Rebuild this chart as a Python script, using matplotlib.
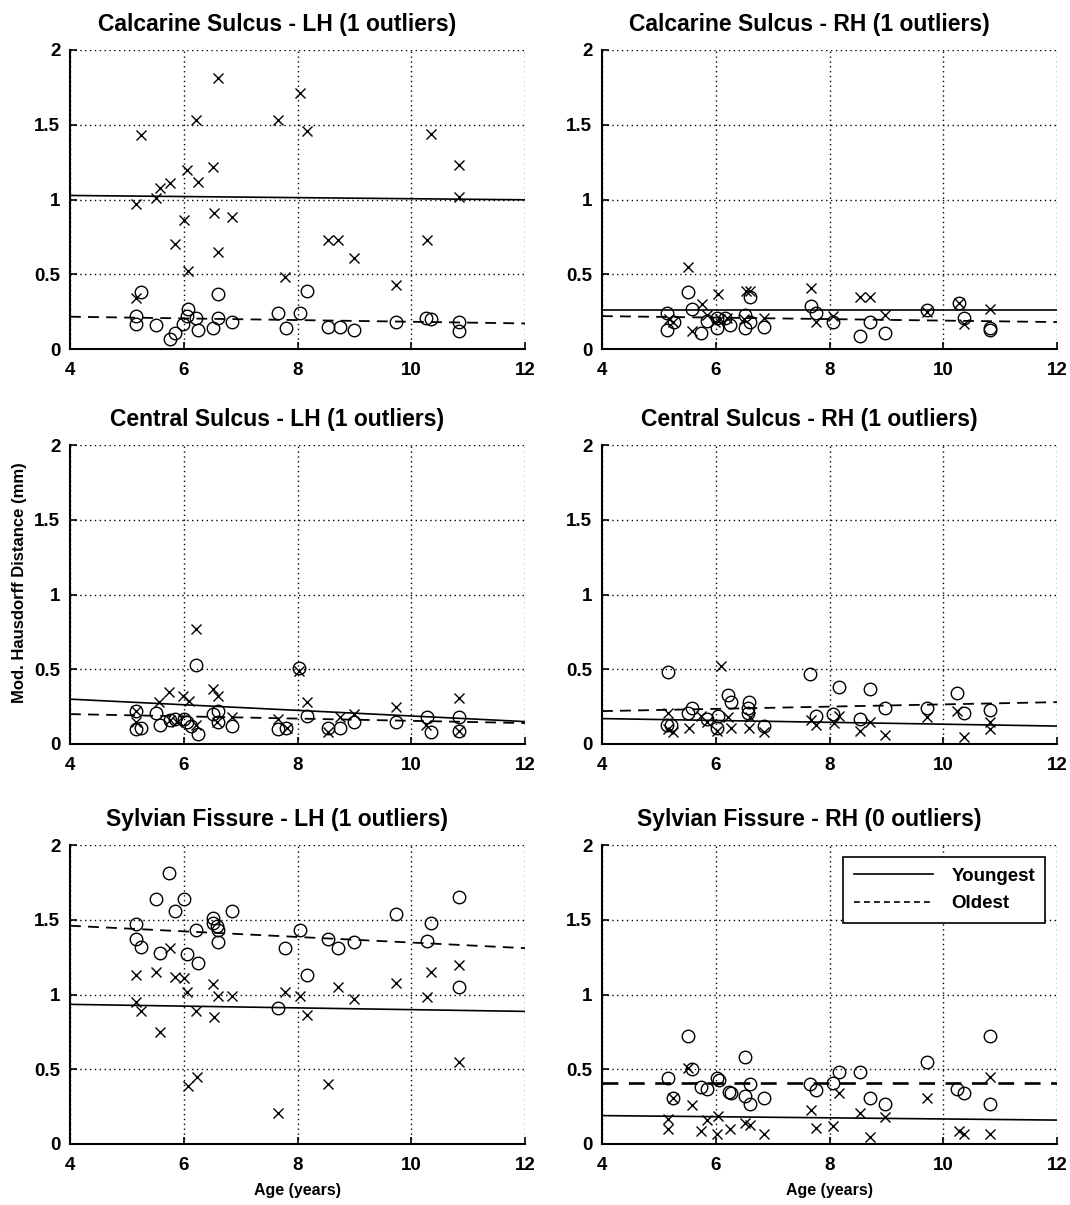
import matplotlib
matplotlib.use('Agg')
import matplotlib.pyplot as plt
from matplotlib.lines import Line2D

plt.rcParams['font.family'] = ['Liberation Sans', 'DejaVu Sans']
plt.rcParams['font.weight'] = 'bold'

# x = crosses (youngest), o = circles (oldest); ages in years, distance in mm
fit_x = [4, 12]

# Calcarine Sulcus - LH
cal_lh_young_age = [6.6, 8.05, 6.21, 7.66, 8.16, 5.25, 10.35, 10.84, 6.05, 6.51, 6.25, 5.59, 5.75, 5.52,
                    5.16, 10.84, 6.53, 6.84, 6.0, 5.84, 6.6, 8.53, 8.72, 8.99, 10.28, 6.07, 7.78, 9.74, 5.16]
cal_lh_young = [1.81, 1.71, 1.53, 1.53, 1.46, 1.43, 1.44, 1.23, 1.20, 1.22, 1.12, 1.08, 1.11, 1.01,
                0.97, 1.02, 0.91, 0.88, 0.86, 0.70, 0.65, 0.73, 0.73, 0.61, 0.73, 0.52, 0.48, 0.43, 0.34]
cal_lh_old_age = [5.25, 6.6, 8.16, 5.16, 5.16, 5.52, 5.75, 5.85, 5.99, 6.08, 6.05, 6.22, 6.25, 6.52,
                  6.6, 6.84, 7.66, 7.79, 8.05, 8.53, 8.74, 8.99, 9.74, 10.26, 10.35, 10.84, 10.84]
cal_lh_old = [0.38, 0.37, 0.39, 0.22, 0.17, 0.16, 0.07, 0.11, 0.17, 0.27, 0.22, 0.21, 0.13, 0.14,
              0.21, 0.18, 0.24, 0.14, 0.24, 0.15, 0.15, 0.13, 0.18, 0.21, 0.20, 0.18, 0.12]
cal_lh_fit_young = [1.027, 0.998]
cal_lh_fit_old = [0.216, 0.171]

# Calcarine Sulcus - RH
cal_rh_young_age = [5.51, 6.04, 6.54, 6.6, 7.67, 8.54, 8.71, 5.75, 5.18, 5.24, 5.59, 5.84, 5.99, 6.07,
                    6.2, 6.5, 6.85, 7.77, 8.06, 8.98, 9.71, 10.27, 10.36, 10.82]
cal_rh_young = [0.546, 0.37, 0.39, 0.39, 0.41, 0.35, 0.35, 0.30, 0.20, 0.18, 0.12, 0.23, 0.18, 0.20,
                0.21, 0.20, 0.21, 0.18, 0.22, 0.23, 0.25, 0.31, 0.17, 0.27]
cal_rh_old_age = [5.51, 5.59, 5.15, 5.26, 5.15, 5.74, 5.84, 6.02, 6.03, 6.16, 6.25, 6.51, 6.51, 6.6,
                  6.6, 6.84, 7.67, 7.77, 8.06, 8.53, 8.71, 8.98, 9.71, 10.27, 10.36, 10.82, 10.82]
cal_rh_old = [0.38, 0.27, 0.24, 0.18, 0.13, 0.11, 0.19, 0.14, 0.21, 0.21, 0.16, 0.23, 0.14, 0.35,
              0.18, 0.15, 0.29, 0.24, 0.18, 0.09, 0.18, 0.11, 0.26, 0.31, 0.21, 0.14, 0.13]
cal_rh_fit_young = [0.26, 0.26]
cal_rh_fit_old = [0.22, 0.18]

# Central Sulcus - LH
cen_lh_young_age = [6.21, 8.03, 5.74, 5.57, 5.99, 6.09, 6.51, 6.6, 8.16, 10.84, 9.74, 5.16, 5.16,
                    5.76, 5.88, 6.21, 6.59, 6.85, 7.66, 7.82, 8.53, 8.74, 9.0, 10.26, 10.84]
cen_lh_young = [0.77, 0.49, 0.35, 0.28, 0.32, 0.29, 0.37, 0.32, 0.28, 0.31, 0.25, 0.22, 0.15,
                0.16, 0.15, 0.13, 0.15, 0.18, 0.17, 0.11, 0.08, 0.18, 0.20, 0.13, 0.09]
cen_lh_old_age = [6.21, 8.03, 5.16, 5.16, 5.24, 5.52, 5.59, 5.75, 5.84, 6.0, 6.06, 6.12, 6.25, 6.51,
                  6.6, 6.6, 6.84, 7.66, 7.79, 8.16, 8.54, 8.74, 8.99, 9.74, 10.28, 10.35, 10.84, 10.84]
cen_lh_old = [0.53, 0.51, 0.22, 0.10, 0.11, 0.21, 0.13, 0.16, 0.17, 0.17, 0.15, 0.12, 0.07, 0.20,
              0.22, 0.15, 0.12, 0.10, 0.11, 0.19, 0.11, 0.11, 0.15, 0.15, 0.18, 0.08, 0.18, 0.09]
cen_lh_fit_young = [0.30, 0.15]
cen_lh_fit_old = [0.20, 0.14]

# Central Sulcus - RH
cen_rh_young_age = [6.09, 5.16, 5.16, 5.24, 5.53, 5.74, 5.85, 6.02, 6.22, 6.26, 6.58, 6.6, 6.85,
                    7.67, 7.77, 8.08, 8.16, 8.54, 8.71, 8.98, 9.71, 10.36, 10.25, 10.82, 10.82]
cen_rh_young = [0.52, 0.21, 0.10, 0.08, 0.11, 0.19, 0.15, 0.09, 0.18, 0.11, 0.11, 0.18, 0.08,
                0.16, 0.13, 0.14, 0.19, 0.09, 0.15, 0.06, 0.18, 0.05, 0.22, 0.10, 0.15]
cen_rh_old_age = [5.16, 7.65, 8.16, 8.71, 6.22, 6.26, 6.58, 10.25, 5.59, 5.51, 6.56, 6.56, 5.84,
                  6.04, 7.77, 8.06, 8.98, 9.71, 10.36, 10.82, 5.14, 5.21, 6.02, 6.84, 8.53]
cen_rh_old = [0.48, 0.47, 0.38, 0.37, 0.33, 0.28, 0.28, 0.34, 0.24, 0.21, 0.24, 0.21, 0.17,
              0.19, 0.19, 0.20, 0.24, 0.24, 0.21, 0.23, 0.13, 0.13, 0.11, 0.12, 0.17]
cen_rh_fit_young = [0.17, 0.12]
cen_rh_fit_old = [0.22, 0.28]

# Sylvian Fissure - LH
syl_lh_young_age = [5.16, 5.52, 5.84, 6.0, 5.75, 6.06, 6.52, 6.6, 6.84, 5.16, 5.25, 6.21, 6.53, 5.59,
                    6.07, 6.24, 7.78, 8.05, 8.16, 8.72, 8.99, 9.74, 10.28, 10.35, 10.84, 10.84, 8.53, 7.66]
syl_lh_young = [1.13, 1.15, 1.12, 1.11, 1.31, 1.02, 1.07, 0.99, 0.99, 0.95, 0.89, 0.89, 0.85, 0.75,
                0.39, 0.45, 1.02, 0.99, 0.86, 1.05, 0.97, 1.08, 0.98, 1.15, 1.20, 0.55, 0.40, 0.21]
syl_lh_old_age = [5.74, 5.52, 6.0, 5.84, 6.84, 6.52, 6.52, 6.58, 6.61, 6.21, 6.6, 5.16, 5.16, 5.25, 5.59,
                  6.06, 6.25, 7.78, 8.05, 8.53, 8.72, 8.99, 9.74, 10.35, 10.28, 10.84, 10.84, 8.16, 7.66]
syl_lh_old = [1.81, 1.64, 1.64, 1.56, 1.56, 1.51, 1.48, 1.46, 1.43, 1.43, 1.35, 1.47, 1.37, 1.32, 1.28,
              1.27, 1.21, 1.31, 1.43, 1.37, 1.31, 1.35, 1.54, 1.48, 1.36, 1.65, 1.05, 1.13, 0.91]
syl_lh_fit_young = [0.934, 0.887]
syl_lh_fit_old = [1.46, 1.31]

# Sylvian Fissure - RH
syl_rh_young_age = [5.51, 5.24, 10.82, 8.16, 9.71, 5.59, 5.16, 5.16, 5.84, 5.74, 6.04, 6.02, 6.25,
                    6.51, 6.6, 6.85, 7.67, 7.77, 8.06, 8.53, 8.71, 8.98, 10.27, 10.36, 10.82]
syl_rh_young = [0.51, 0.31, 0.45, 0.34, 0.31, 0.26, 0.17, 0.10, 0.16, 0.09, 0.19, 0.07, 0.10,
                0.14, 0.13, 0.07, 0.23, 0.11, 0.12, 0.21, 0.05, 0.18, 0.09, 0.07, 0.07]
syl_rh_old_age = [5.51, 10.82, 6.51, 9.71, 5.59, 8.16, 8.53, 5.16, 6.02, 6.06, 5.74, 5.84, 6.23, 6.26,
                  6.6, 6.51, 6.6, 6.84, 7.65, 7.77, 8.06, 8.71, 8.98, 10.25, 10.36, 10.82, 5.24]
syl_rh_old = [0.72, 0.72, 0.58, 0.55, 0.50, 0.48, 0.48, 0.44, 0.44, 0.43, 0.38, 0.37, 0.35, 0.34,
              0.40, 0.32, 0.27, 0.31, 0.40, 0.36, 0.41, 0.31, 0.27, 0.37, 0.34, 0.27, 0.31]
syl_rh_fit_young = [0.19, 0.16]
syl_rh_fit_old = [0.41, 0.41]

titles = ['Calcarine Sulcus - LH (1 outliers)', 'Calcarine Sulcus - RH (1 outliers)',
          'Central Sulcus - LH (1 outliers)', 'Central Sulcus - RH (1 outliers)',
          'Sylvian Fissure - LH (1 outliers)', 'Sylvian Fissure - RH (0 outliers)']

panels = [
    (cal_lh_young_age, cal_lh_young, cal_lh_old_age, cal_lh_old, cal_lh_fit_young, cal_lh_fit_old),
    (cal_rh_young_age, cal_rh_young, cal_rh_old_age, cal_rh_old, cal_rh_fit_young, cal_rh_fit_old),
    (cen_lh_young_age, cen_lh_young, cen_lh_old_age, cen_lh_old, cen_lh_fit_young, cen_lh_fit_old),
    (cen_rh_young_age, cen_rh_young, cen_rh_old_age, cen_rh_old, cen_rh_fit_young, cen_rh_fit_old),
    (syl_lh_young_age, syl_lh_young, syl_lh_old_age, syl_lh_old, syl_lh_fit_young, syl_lh_fit_old),
    (syl_rh_young_age, syl_rh_young, syl_rh_old_age, syl_rh_old, syl_rh_fit_young, syl_rh_fit_old),
]

fig = plt.figure(figsize=(10.7, 12.05), dpi=100)
W, H = 1070, 1205
lefts = [70, 602]
tops = [50, 445, 845]
aw, ah = 455, 299

axes = []
for i, (ya, yv, oa, ov, fy, fo) in enumerate(panels):
    row, col = divmod(i, 2)
    ax = fig.add_axes([lefts[col] / W, 1 - (tops[row] + ah) / H, aw / W, ah / H])
    axes.append(ax)

    ax.plot(ya, yv, 'x', color='black', markersize=7, markeredgewidth=1.0, zorder=3)
    ax.plot(oa, ov, 'o', markerfacecolor='none', markeredgecolor='black', markersize=9,
            markeredgewidth=1.0, zorder=3)
    ax.plot(fit_x, fy, '-', color='black', linewidth=1.2, zorder=4)
    ax.plot(fit_x, fo, '--', color='black', linewidth=1.3 if i < 5 else 1.9,
            dashes=(6, 4), zorder=4)

    ax.set_xlim(4, 12)
    ax.set_ylim(0, 2)
    ax.set_xticks([4, 6, 8, 10, 12])
    ax.set_yticks([0, 0.5, 1, 1.5, 2])
    ax.set_yticklabels(['0', '0.5', '1', '1.5', '2'])
    ax.grid(True, linestyle=(0, (1, 2.5)), color='black', linewidth=1.0)
    ax.set_axisbelow(True)
    for s in ['top', 'right']:
        ax.spines[s].set_visible(False)
    for s in ['left', 'bottom']:
        ax.spines[s].set_linewidth(1.5)
    ax.tick_params(direction='in', length=5, width=1.2, labelsize=13.5)
    ax.tick_params(axis='x', pad=9)
    ax.tick_params(axis='y', pad=7)
    for lab in ax.get_xticklabels() + ax.get_yticklabels():
        lab.set_fontweight('bold')
    ax.set_title(titles[i], fontsize=16.5, fontweight='bold', pad=14, x=0.455)

axes[2].set_ylabel('Mod. Hausdorff Distance (mm)', fontsize=12, fontweight='bold')
axes[2].yaxis.set_label_coords(-0.095, 0.54)
axes[4].set_xlabel('Age (years)', fontsize=11.5, fontweight='bold', labelpad=7)
axes[5].set_xlabel('Age (years)', fontsize=11.5, fontweight='bold', labelpad=7)

handles = [Line2D([], [], color='black', linewidth=1.2, linestyle='-'),
           Line2D([], [], color='black', linewidth=1.2, linestyle='--', dashes=(3.5, 2.5))]
leg = axes[5].legend(handles, ['Youngest', 'Oldest'], loc='upper right',
                     bbox_to_anchor=(0.995, 0.99), fontsize=13.5, handlelength=4.2,
                     fancybox=False, edgecolor='black', framealpha=1, borderpad=0.55,
                     labelspacing=0.55, handletextpad=1.0)
leg.get_frame().set_linewidth(1.2)
for t in leg.get_texts():
    t.set_fontweight('bold')

fig.savefig('out.png', dpi=100, facecolor='white')
